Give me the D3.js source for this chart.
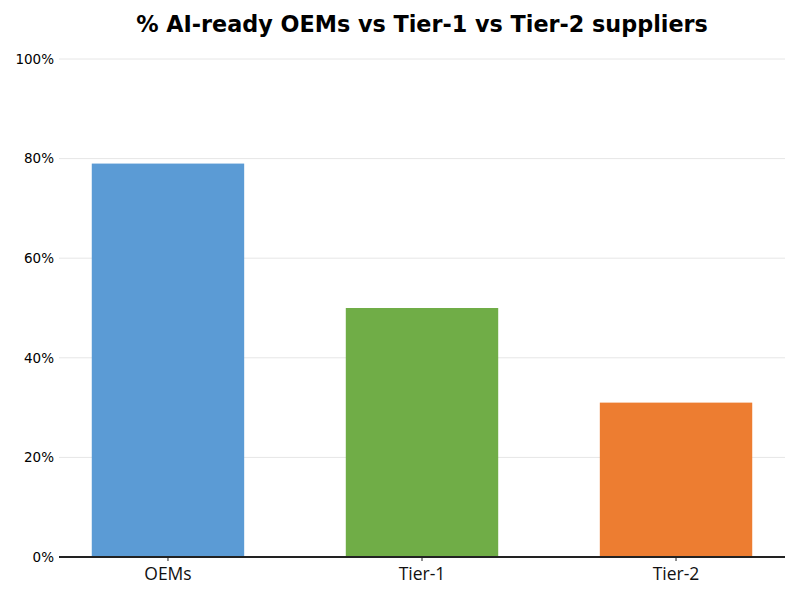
<!DOCTYPE html>
<html><head><meta charset="utf-8">
<script src="https://cdn.jsdelivr.net/npm/d3@7"></script>
<style>body{margin:0;background:#fff;} svg{display:block;font-family:"DejaVu Sans",sans-serif;}</style>
</head><body>
<svg id="c" width="800" height="600"></svg>
<script>
const categories = ["OEMs", "Tier-1", "Tier-2"];
const values = [79, 50, 31];
const colors = ["#5b9bd5", "#70ad47", "#ed7d31"];
const yTicks = [0, 20, 40, 60, 80, 100];

const svg = d3.select("#c");
const L = 59, R = 785, T = 59, B = 557;
const x = d3.scaleBand().domain(categories).range([L, R]).paddingInner(0.4).paddingOuter(0.129);
const y = d3.scaleLinear().domain([0, 100]).range([B, T]);

// grid
svg.append("g").selectAll("line").data(yTicks).join("line")
  .attr("x1", L).attr("x2", R).attr("y1", d => y(d)).attr("y2", d => y(d))
  .attr("stroke", "#e6e6e6").attr("stroke-width", 1);

// y labels
const ya = svg.append("g").attr("transform", `translate(${L},0)`)
  .call(d3.axisLeft(y).tickValues(yTicks).tickFormat(d => d + "%").tickSize(0).tickPadding(5));
ya.select(".domain").remove();
ya.selectAll("text").style("font-size", "13.5px").style("font-family", "DejaVu Sans").attr("fill", "#000");

// bars
svg.append("g").selectAll("rect").data(categories).join("rect")
  .attr("x", d => x(d)).attr("width", x.bandwidth())
  .attr("y", (d, i) => y(values[i])).attr("height", (d, i) => B - y(values[i]))
  .attr("fill", (d, i) => colors[i]);

// x axis
const xa = svg.append("g").attr("transform", `translate(0,${B})`)
  .call(d3.axisBottom(x).tickSize(4).tickPadding(7).tickSizeOuter(0));
xa.select(".domain").attr("stroke", "#222").attr("stroke-width", 2).attr("d", `M${L},0H${R}`);
xa.selectAll(".tick line").attr("stroke", "#222");
xa.selectAll("text").style("font-size", "17.5px").style("font-family", "Open Sans, DejaVu Sans").attr("fill", "#111");

// title
svg.append("text").attr("x", (L + R) / 2).attr("y", 32).attr("text-anchor", "middle")
  .style("font-size", "22.3px").attr("font-weight", "bold").style("font-family", "DejaVu Sans")
  .text("% AI-ready OEMs vs Tier-1 vs Tier-2 suppliers");
</script>
</body></html>
